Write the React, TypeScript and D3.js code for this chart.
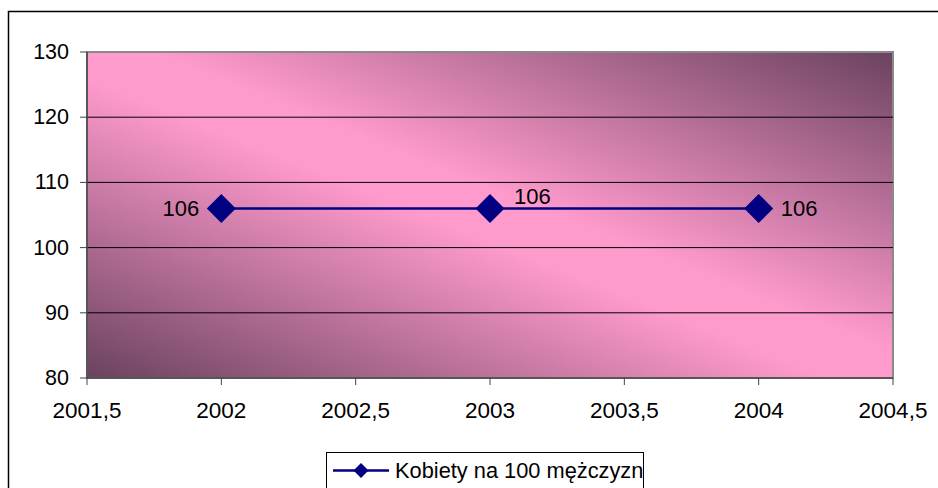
import React from "react";
import * as d3 from "d3";

const years = [2002, 2003, 2004];
const values = [106, 106, 106];
const dataLabels = ["106", "106", "106"];
const labelPlacement = ["left", "above", "right"];
const yTicks = [80, 90, 100, 110, 120, 130];
const xTicks = [2001.5, 2002, 2002.5, 2003, 2003.5, 2004, 2004.5];
const seriesName = "Kobiety na 100 mężczyzn";

const W = 938;
const H = 488;
const plot = { left: 87, right: 893, top: 52, bottom: 378 };
const FONT = "Arial, 'Liberation Sans', sans-serif";

export default function App() {
  const x = d3.scaleLinear().domain([2001.5, 2004.5]).range([plot.left, plot.right]);
  const y = d3.scaleLinear().domain([80, 130]).range([plot.bottom, plot.top]);
  const line = d3
    .line<number>()
    .x((_, i) => x(years[i]))
    .y((d) => y(d));
  const diamond = (cx: number, cy: number, r: number) =>
    `M${cx},${cy - r}L${cx + r},${cy}L${cx},${cy + r}L${cx - r},${cy}Z`;
  const fmt = (v: number) => String(v).replace(".", ",");

  return (
    <svg
      width={W}
      height={H}
      style={{ position: "fixed", left: 0, top: 0, background: "#fff" }}
      fontFamily={FONT}
    >
      <defs>
        <linearGradient id="bg" x1="0" y1="1" x2="1" y2="0">
          <stop offset="0" stopColor="#6a4260" />
          <stop offset="0.46" stopColor="#ff9acd" />
          <stop offset="0.54" stopColor="#ff9acd" />
          <stop offset="1" stopColor="#6a4260" />
        </linearGradient>
      </defs>
      <rect x={8.5} y={11.5} width={W + 10} height={H + 10} fill="#fff" stroke="#000" strokeWidth={1.5} />
      <rect
        x={plot.left}
        y={plot.top}
        width={plot.right - plot.left}
        height={plot.bottom - plot.top}
        fill="url(#bg)"
        stroke="#8a8a8a"
        strokeWidth={2}
      />
      {yTicks.slice(1, -1).map((t) => (
        <line key={t} x1={plot.left} x2={plot.right} y1={y(t)} y2={y(t)} stroke="#000" strokeWidth={1} />
      ))}
      <line x1={plot.left} x2={plot.left} y1={plot.top} y2={plot.bottom} stroke="#444" strokeWidth={1.5} />
      <line x1={plot.left} x2={plot.right} y1={plot.bottom} y2={plot.bottom} stroke="#444" strokeWidth={1.5} />
      {yTicks.map((t) => (
        <g key={t}>
          <line x1={plot.left - 7} x2={plot.left} y1={y(t)} y2={y(t)} stroke="#444" strokeWidth={1} />
          <text x={69} y={y(t)} textAnchor="end" dominantBaseline="central" fontSize={21.5} fill="#000">
            {t}
          </text>
        </g>
      ))}
      {xTicks.map((t) => (
        <g key={t}>
          <line x1={x(t)} x2={x(t)} y1={plot.bottom} y2={plot.bottom + 7} stroke="#444" strokeWidth={1} />
          <text x={x(t)} y={418} textAnchor="middle" fontSize={22.5} fill="#000">
            {fmt(t)}
          </text>
        </g>
      ))}
      <path d={line(values) || ""} fill="none" stroke="#000080" strokeWidth={2.5} />
      {values.map((v, i) => (
        <path key={i} d={diamond(x(years[i]), y(v), 14.5)} fill="#000080" />
      ))}
      {values.map((v, i) => {
        const cx = x(years[i]);
        const cy = y(v);
        const p = labelPlacement[i];
        if (p === "left")
          return (
            <text key={i} x={cx - 22} y={cy} textAnchor="end" dominantBaseline="central" fontSize={22}>
              {dataLabels[i]}
            </text>
          );
        if (p === "right")
          return (
            <text key={i} x={cx + 22} y={cy} textAnchor="start" dominantBaseline="central" fontSize={22}>
              {dataLabels[i]}
            </text>
          );
        return (
          <text key={i} x={cx + 24} y={cy - 4} textAnchor="start" fontSize={22}>
            {dataLabels[i]}
          </text>
        );
      })}
      <rect x={326.5} y={452.5} width={317} height={50} fill="#fff" stroke="#000" strokeWidth={1} />
      <line x1={333} x2={389} y1={470.5} y2={470.5} stroke="#000080" strokeWidth={2.5} />
      <path d={diamond(361, 470.5, 7.5)} fill="#000080" />
      <text x={395} y={470.5} dominantBaseline="central" fontSize={21.8} fill="#000">
        {seriesName}
      </text>
    </svg>
  );
}
